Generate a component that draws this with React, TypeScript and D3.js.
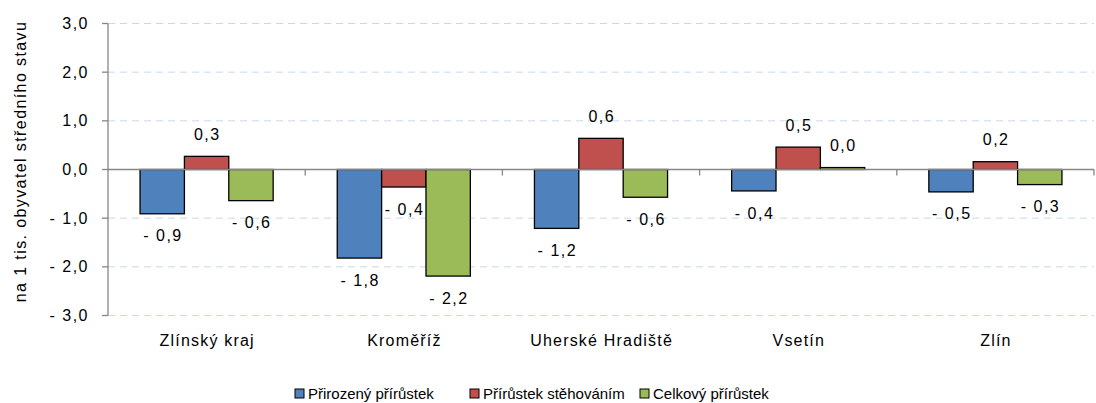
import React from "react";
import * as d3 from "d3";

const categories = ["Zlínský kraj", "Kroměříž", "Uherské Hradiště", "Vsetín", "Zlín"];
const seriesNames = ["Přirozený přírůstek", "Přírůstek stěhováním", "Celkový přírůstek"];
const prirozeny = [-0.91, -1.82, -1.21, -0.44, -0.46];
const stehovani = [0.27, -0.36, 0.64, 0.46, 0.16];
const celkovy = [-0.64, -2.19, -0.57, 0.04, -0.31];
const yTicks = [-3, -2, -1, 0, 1, 2, 3];
const colors = ["#4f81bd", "#c0504d", "#9bbb59"];

const W = 1096, H = 403;
const font = "'Liberation Sans', Arial, sans-serif";

const fmt = (v: number) => {
  const s = Math.abs(v).toFixed(1).replace(".", ",");
  return v < 0 && Math.abs(v) >= 0.05 ? "- " + s : s;
};

export default function App() {
  const series = [prirozeny, stehovani, celkovy];
  const x0 = d3.scaleBand<string>().domain(categories).range([108, 1094]).paddingInner(0).paddingOuter(0);
  const y = d3.scaleLinear().domain([-3, 3]).range([315.5, 23.5]);
  const groupW = x0.bandwidth() * 0.675;
  const x1 = d3.scaleBand<number>().domain([0, 1, 2]).range([0, groupW]);
  const y0 = y(0);
  const legendX = [295, 470, 640];
  return (
    <div style={{ position: "absolute", left: 0, top: 0 }}>
      <svg width={W} height={H} style={{ display: "block", background: "#fff" }} fontFamily={font}>
        {yTicks.filter((t) => t !== 0).map((t) => (
          <line key={"g" + t} x1={108} x2={1094} y1={y(t)} y2={y(t)} stroke="#c6d9f1" strokeDasharray="7,5" strokeWidth={1} />
        ))}
        {categories.map((c, i) => (
          <g key={c}>
            {series.map((s, j) => {
              const v = s[i];
              const bx = (x0(c) as number) + (x0.bandwidth() - groupW) / 2 + (x1(j) as number);
              const top = Math.min(y(v), y0);
              const h = Math.abs(y(v) - y0);
              return (
                <g key={j}>
                  <rect x={bx} y={top} width={x1.bandwidth()} height={h} fill={colors[j]} stroke="#000" strokeWidth={1.3} />
                  <text x={bx + x1.bandwidth() / 2 + 0.75} y={v >= 0 ? y(v) - 22 : y(v) + 22} dy="0.35em" textAnchor="middle" fontSize={16} letterSpacing={1.5} fill="#000">{fmt(v)}</text>
                </g>
              );
            })}
            <text x={(x0(c) as number) + x0.bandwidth() / 2 + 0.6} y={340} dy="0.35em" textAnchor="middle" fontSize={16} letterSpacing={1.2} fill="#000">{c}</text>
          </g>
        ))}
        <line x1={108} x2={1094} y1={y0} y2={y0} stroke="#868686" strokeWidth={1.3} />
        {categories.map((c, i) => (
          <line key={"t" + i} x1={(x0(c) as number) + x0.bandwidth()} x2={(x0(c) as number) + x0.bandwidth()} y1={y0} y2={y0 + 6} stroke="#868686" strokeWidth={1.3} />
        ))}
        <line x1={108} x2={108} y1={y(3)} y2={y(-3)} stroke="#868686" strokeWidth={1.3} />
        {yTicks.map((t) => (
          <g key={"y" + t}>
            <line x1={102} x2={108} y1={y(t)} y2={y(t)} stroke="#868686" strokeWidth={1.3} />
            <text x={89} y={y(t)} dy="0.35em" textAnchor="end" fontSize={16} letterSpacing={1.5} fill="#000">{fmt(t)}</text>
          </g>
        ))}
        <text transform={`translate(20,${y0 - 8}) rotate(-90)`} textAnchor="middle" dy="0.35em" fontSize={16} letterSpacing={1.4} fill="#000">na 1 tis. obyvatel středního stavu</text>
        {seriesNames.map((n, j) => (
          <g key={n}>
            <rect x={legendX[j]} y={389} width={9} height={9} fill={colors[j]} stroke="#000" strokeWidth={1} />
            <text x={legendX[j] + 13} y={393.5} dy="0.35em" fontSize={15} fill="#000">{n}</text>
          </g>
        ))}
      </svg>
    </div>
  );
}
